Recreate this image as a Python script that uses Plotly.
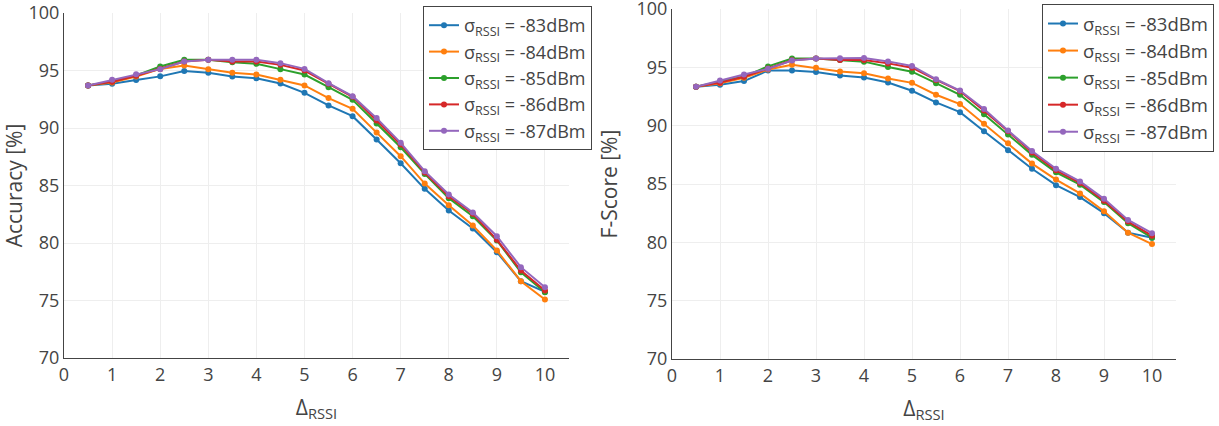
import plotly.graph_objects as go

x_vals = [0.5, 1, 1.5, 2, 2.5, 3, 3.5, 4, 4.5, 5, 5.5, 6, 6.5, 7, 7.5, 8, 8.5, 9, 9.5, 10]
series_names = ["σ<sub>RSSI</sub> = -83dBm", "σ<sub>RSSI</sub> = -84dBm", "σ<sub>RSSI</sub> = -85dBm",
                "σ<sub>RSSI</sub> = -86dBm", "σ<sub>RSSI</sub> = -87dBm"]
colors = ["#1f77b4", "#ff7f0e", "#2ca02c", "#d62728", "#9467bd"]

acc_83 = [93.70, 93.84, 94.17, 94.49, 94.96, 94.80, 94.48, 94.33, 93.87, 93.06, 91.96, 91.03, 89.00, 86.94, 84.71, 82.83, 81.26, 79.20, 76.68, 75.75]
acc_84 = [93.70, 93.95, 94.48, 95.14, 95.44, 95.12, 94.80, 94.65, 94.19, 93.70, 92.60, 91.67, 89.60, 87.55, 85.17, 83.29, 81.52, 79.35, 76.68, 75.09]
acc_85 = [93.70, 94.05, 94.57, 95.35, 95.93, 95.93, 95.72, 95.58, 95.12, 94.65, 93.55, 92.45, 90.39, 88.33, 86.01, 83.90, 82.33, 80.22, 77.46, 75.72]
acc_86 = [93.70, 94.03, 94.55, 95.14, 95.78, 95.93, 95.78, 95.78, 95.49, 95.00, 93.84, 92.71, 90.65, 88.57, 86.13, 84.07, 82.54, 80.28, 77.60, 75.87]
acc_87 = [93.70, 94.19, 94.67, 95.12, 95.78, 95.93, 95.93, 95.93, 95.64, 95.14, 93.90, 92.77, 90.86, 88.71, 86.25, 84.22, 82.65, 80.59, 77.90, 76.16]

f_83 = [93.33, 93.50, 93.82, 94.72, 94.72, 94.60, 94.30, 94.12, 93.70, 92.99, 91.99, 91.16, 89.52, 87.90, 86.31, 84.90, 83.88, 82.50, 80.83, 80.40]
f_84 = [93.33, 93.64, 94.10, 94.82, 95.23, 94.96, 94.65, 94.49, 94.04, 93.67, 92.65, 91.85, 90.16, 88.50, 86.75, 85.38, 84.19, 82.67, 80.83, 79.85]
f_85 = [93.33, 93.75, 94.21, 95.08, 95.75, 95.75, 95.63, 95.49, 95.03, 94.63, 93.64, 92.65, 90.98, 89.24, 87.50, 86.00, 84.94, 83.45, 81.64, 80.40]
f_86 = [93.33, 93.69, 94.19, 94.91, 95.60, 95.75, 95.62, 95.63, 95.34, 94.97, 93.92, 92.96, 91.29, 89.52, 87.70, 86.17, 85.09, 83.56, 81.78, 80.57]
f_87 = [93.33, 93.88, 94.38, 94.87, 95.58, 95.76, 95.78, 95.80, 95.51, 95.12, 93.98, 93.01, 91.43, 89.58, 87.83, 86.31, 85.22, 83.73, 81.92, 80.78]

y_ticks = [70, 75, 80, 85, 90, 95, 100]
x_ticks = [0, 1, 2, 3, 4, 5, 6, 7, 8, 9, 10]

acc_series = [acc_83, acc_84, acc_85, acc_86, acc_87]
f_series = [f_83, f_84, f_85, f_86, f_87]

fig = go.Figure()
for name, col, ys in zip(series_names, colors, acc_series):
    fig.add_trace(go.Scatter(x=x_vals, y=ys, name=name, mode="lines+markers",
                             line=dict(color=col, width=2), marker=dict(color=col, size=6),
                             xaxis="x", yaxis="y", legend="legend"))
for name, col, ys in zip(series_names, colors, f_series):
    fig.add_trace(go.Scatter(x=x_vals, y=ys, name=name, mode="lines+markers",
                             line=dict(color=col, width=2), marker=dict(color=col, size=6),
                             xaxis="x2", yaxis="y2", legend="legend2"))

W, H = 1219, 426
axis_common = dict(showgrid=True, gridcolor="#eeeeee", gridwidth=1, zeroline=False,
                   showline=True, linecolor="#444", linewidth=1, ticks="",
                   ticklabeloverflow="allow",
                   tickfont=dict(size=18, color="#444"), automargin=False)

fig.update_layout(
    width=W, height=H,
    margin=dict(l=0, r=0, t=0, b=0),
    paper_bgcolor="white", plot_bgcolor="white",
    font=dict(family="Open Sans", color="#444"),
    xaxis=dict(domain=[64 / W, 569 / W], anchor="y", range=[0, 10.5],
               tickmode="array", tickvals=x_ticks,
               title=dict(text="Δ<sub>RSSI</sub>", font=dict(size=21), standoff=15), **axis_common),
    yaxis=dict(domain=[(H - 358) / H, (H - 13) / H], anchor="x", range=[70, 100.001],
               tickmode="array", tickvals=y_ticks,
               title=dict(text="Accuracy [%]", font=dict(size=21), standoff=2), **axis_common),
    xaxis2=dict(domain=[672 / W, 1176 / W], anchor="y2", range=[0, 10.5],
                tickmode="array", tickvals=x_ticks,
                title=dict(text="Δ<sub>RSSI</sub>", font=dict(size=21), standoff=15), **axis_common),
    yaxis2=dict(domain=[(H - 359) / H, (H - 9) / H], anchor="x2", range=[70, 100.001],
                tickmode="array", tickvals=y_ticks,
                title=dict(text="F-Score [%]", font=dict(size=21), standoff=13), **axis_common),
    legend=dict(x=592 / W, y=(H - 6) / H, xanchor="right", yanchor="top",
                bordercolor="#444", borderwidth=1, bgcolor="white",
                font=dict(size=18, color="#444")),
    legend2=dict(x=1214 / W, y=(H - 4) / H, xanchor="right", yanchor="top",
                 bordercolor="#444", borderwidth=1, bgcolor="white",
                 font=dict(size=18.5, color="#444")),
)

fig.write_html("out.html")
